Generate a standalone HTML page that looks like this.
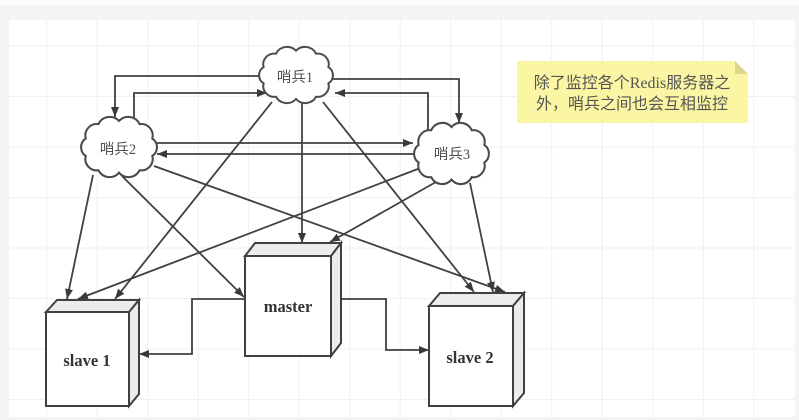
<!DOCTYPE html>
<html>
<head>
<meta charset="utf-8">
<style>
html,body{margin:0;padding:0;background:#f4f4f4;}
svg{display:block;}
</style>
</head>
<body>
<svg width="799" height="420" viewBox="0 0 799 420" xmlns="http://www.w3.org/2000/svg">
  <defs>
    <marker id="ah" markerUnits="userSpaceOnUse" markerWidth="11" markerHeight="9" refX="10" refY="4" orient="auto">
      <path d="M0,0 L10,4 L0,8 Z" fill="#3a3a3a"/>
    </marker>
    <path id="cloud" d="M 8 30 A 14.4 14.4 0 0 1 24 12 A 15.8 15.8 0 0 1 50 8 A 15.8 15.8 0 0 1 76 12 A 14.4 14.4 0 0 1 92 30 A 13.2 13.2 0 0 1 92 52 A 14.4 14.4 0 0 1 76 70 A 15.7 15.7 0 0 1 50 73 A 15.7 15.7 0 0 1 24 70 A 14.4 14.4 0 0 1 8 52 A 13.2 13.2 0 0 1 8 30 Z"/>
  </defs>

  <!-- background -->
  <rect x="0" y="0" width="799" height="420" fill="#f4f4f4"/>
  <rect x="0" y="0" width="799" height="5" fill="#fbfbfb"/>
  <rect x="9" y="20" width="786" height="397" fill="#ffffff"/>

  <!-- grid -->
  <g stroke="#f0f0f0" stroke-width="1">
    <line x1="46.7" y1="20" x2="46.7" y2="417"/>
    <line x1="97.2" y1="20" x2="97.2" y2="417"/>
    <line x1="147.7" y1="20" x2="147.7" y2="417"/>
    <line x1="198.2" y1="20" x2="198.2" y2="417"/>
    <line x1="248.7" y1="20" x2="248.7" y2="417"/>
    <line x1="299.2" y1="20" x2="299.2" y2="417"/>
    <line x1="349.7" y1="20" x2="349.7" y2="417"/>
    <line x1="400.2" y1="20" x2="400.2" y2="417"/>
    <line x1="450.7" y1="20" x2="450.7" y2="417"/>
    <line x1="501.2" y1="20" x2="501.2" y2="417"/>
    <line x1="551.7" y1="20" x2="551.7" y2="417"/>
    <line x1="602.2" y1="20" x2="602.2" y2="417"/>
    <line x1="652.7" y1="20" x2="652.7" y2="417"/>
    <line x1="703.2" y1="20" x2="703.2" y2="417"/>
    <line x1="753.7" y1="20" x2="753.7" y2="417"/>
    <line x1="9" y1="46" x2="795" y2="46"/>
    <line x1="9" y1="96.5" x2="795" y2="96.5"/>
    <line x1="9" y1="147" x2="795" y2="147"/>
    <line x1="9" y1="197.5" x2="795" y2="197.5"/>
    <line x1="9" y1="248" x2="795" y2="248"/>
    <line x1="9" y1="298.5" x2="795" y2="298.5"/>
    <line x1="9" y1="349" x2="795" y2="349"/>
    <line x1="9" y1="399.5" x2="795" y2="399.5"/>
  </g>

  <!-- connectors -->
  <g stroke="#404040" stroke-width="1.8" fill="none" marker-end="url(#ah)">
    <polyline points="259,76 115,76 115,117"/>
    <polyline points="134,122 134,93 267,93"/>
    <polyline points="332,79 459,79 459,123"/>
    <polyline points="428,132 428,93 335,93"/>
    <line x1="155" y1="143" x2="413" y2="143"/>
    <line x1="415" y1="154" x2="157" y2="154"/>
    <line x1="272" y1="102" x2="115" y2="299"/>
    <line x1="302" y1="103" x2="302" y2="243"/>
    <line x1="323" y1="102" x2="474" y2="292"/>
    <line x1="93" y1="175" x2="67" y2="299"/>
    <line x1="122" y1="176" x2="244" y2="297"/>
    <line x1="154" y1="166" x2="505" y2="292"/>
    <line x1="423" y1="167" x2="78" y2="299"/>
    <line x1="443" y1="178" x2="330" y2="242"/>
    <line x1="470" y1="183" x2="493" y2="292"/>
    <polyline points="245,299 192,299 192,354 139,354"/>
    <polyline points="341,299 386,299 386,350 429,350"/>
  </g>

  <!-- clouds -->
  <g fill="#ffffff" stroke="#4a4a4a" stroke-width="2.6">
    <use href="#cloud" transform="translate(259,47) scale(0.771,0.742) translate(-2,-3)"/>
    <use href="#cloud" transform="translate(81,117) scale(0.792,0.795) translate(-2,-3)"/>
    <use href="#cloud" transform="translate(414,123) scale(0.781,0.808) translate(-2,-3)"/>
  </g>
  <g font-family="'Liberation Serif','Noto Sans CJK SC',sans-serif" font-size="14.5" fill="#505050" text-anchor="middle">
    <text x="295" y="82">哨兵1</text>
    <text x="118" y="154">哨兵2</text>
    <text x="452" y="159">哨兵3</text>
  </g>

  <!-- boxes -->
  <g stroke="#404040" stroke-width="2" stroke-linejoin="miter">
    <polygon points="245,256 255,243 341,243 331,256" fill="#ececec"/>
    <polygon points="331,256 341,243 341,343 331,356" fill="#ececec"/>
    <rect x="245" y="256" width="86" height="100" fill="#ffffff"/>
    <polygon points="46,312 57,300 139,300 129,312" fill="#ececec"/>
    <polygon points="129,312 139,300 139,394 129,406" fill="#ececec"/>
    <rect x="46" y="312" width="83" height="94" fill="#ffffff"/>
    <polygon points="429,306 440,293 524,293 513,306" fill="#ececec"/>
    <polygon points="513,306 524,293 524,393 513,406" fill="#ececec"/>
    <rect x="429" y="306" width="84" height="100" fill="#ffffff"/>
  </g>
  <g font-family="'Liberation Serif',serif" font-weight="bold" font-size="16.5" fill="#333" text-anchor="middle">
    <text x="288" y="312">master</text>
    <text x="87" y="366">slave 1</text>
    <text x="470" y="363">slave 2</text>
  </g>

  <!-- note -->
  <polygon points="517,61 735,61 748,74 748,123 517,123" fill="#fbf6a3"/>
  <polygon points="735,61 748,74 735,74" fill="#ddd78e"/>
  <g font-family="'Liberation Serif','Noto Sans CJK SC',sans-serif" font-size="16" fill="#555" text-anchor="middle">
    <text x="632" y="88">除了监控各个Redis服务器之</text>
    <text x="632" y="109">外，哨兵之间也会互相监控</text>
  </g>
</svg>
</body>
</html>
